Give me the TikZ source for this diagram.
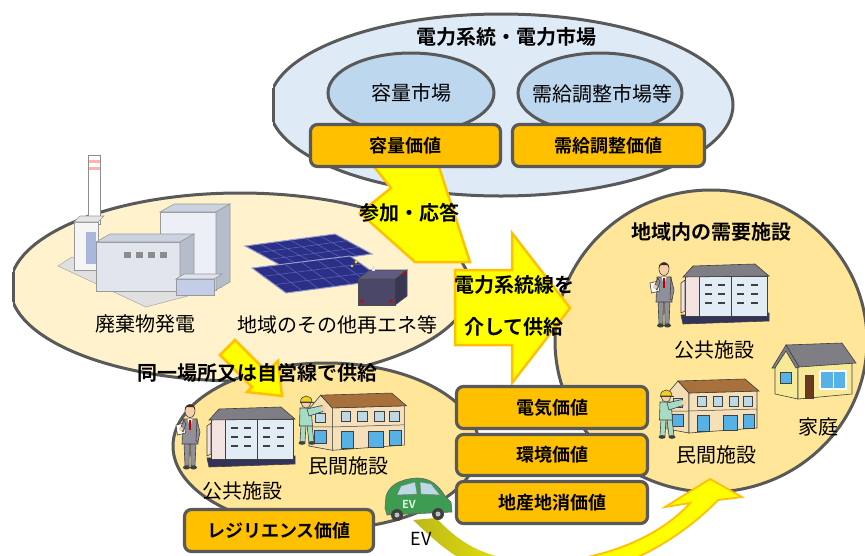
\documentclass[tikz,border=0pt]{standalone}
\usepackage{fontspec}
\setmainfont{Noto Sans CJK JP}[BoldFont={Noto Sans CJK JP Bold}]
\usetikzlibrary{calc}

\definecolor{edgegray}{HTML}{595959}
\definecolor{gridfill}{HTML}{DEEBF7}
\definecolor{marketfill}{HTML}{BDD7EE}
\definecolor{localfill}{HTML}{FFF2CC}
\definecolor{sitefill}{HTML}{FFE699}
\definecolor{valuefill}{HTML}{FFC000}
\definecolor{flowfill}{HTML}{FFFF00}
\definecolor{flowolive}{HTML}{BDB81A}
\definecolor{linedark}{HTML}{404040}
\definecolor{skin}{HTML}{F6CFA8}
\definecolor{hair}{HTML}{3A2A22}
\definecolor{suit}{HTML}{8F909A}
\definecolor{workwear}{HTML}{A6DCC6}
\definecolor{helmet}{HTML}{F4CF1E}
\definecolor{roofgray}{HTML}{7E7E84}
\definecolor{wallblue}{HTML}{E2ECF5}
\definecolor{wallpink}{HTML}{F2E2E0}
\definecolor{basenavy}{HTML}{33335A}
\definecolor{roofbrown}{HTML}{A8703A}
\definecolor{wallbeige}{HTML}{F4DDB2}
\definecolor{glassblue}{HTML}{56B2E6}
\definecolor{wallyellow}{HTML}{F7EA96}
\definecolor{doorbrown}{HTML}{6A3A1E}
\definecolor{carbody}{HTML}{3E9B52}
\definecolor{carglass}{HTML}{BCD9E6}
\definecolor{panelblue}{HTML}{2C2F86}
\definecolor{panelgrid}{HTML}{5560B8}
\definecolor{panelrim}{HTML}{9AA0CC}
\definecolor{plantlight}{HTML}{E0E5EE}
\definecolor{planttop}{HTML}{CBD2E0}
\definecolor{plantside}{HTML}{B5BCCA}
\definecolor{plantblue}{HTML}{A9B7DD}
\definecolor{batfront}{HTML}{4A4768}
\definecolor{battop}{HTML}{5F5B82}
\definecolor{batside}{HTML}{393654}

\tikzset{
  ring/.style={draw=edgegray, line width=3pt},
  valuebox/.style={draw=edgegray, line width=3.2pt, fill=valuefill, rounded corners=7pt,
    inner sep=0pt, font=\bfseries\fontsize{18}{22}\selectfont},
  flowarrow/.style={fill=flowfill, draw=valuefill, line width=2.5pt, line join=miter},
  plain/.style={inner sep=0pt, font=\fontsize{20}{24}\selectfont},
  heading/.style={inner sep=0pt, font=\bfseries\fontsize{20}{24}\selectfont},
  thinline/.style={draw=linedark, line width=0.6pt},
  % man in a suit holding papers
  suitman/.pic={
    \path[thinline, fill=suit] (8,40) -- (13.5,40) -- (13,64) -- (9,64) -- cycle;
    \path[thinline, fill=suit] (14.5,40) -- (20,40) -- (19,64) -- (15,64) -- cycle;
    \fill[linedark] (10.5,65.5) ellipse [x radius=3.5, y radius=2];
    \fill[linedark] (17.5,65.5) ellipse [x radius=3.5, y radius=2];
    \path[thinline, fill=suit] (7,17) -- (21,17) -- (22,42) -- (6,42) -- cycle;
    \fill[white] (11.5,17) -- (16.5,17) -- (14,25) -- cycle;
    \draw[red!75!black, line width=1.2pt] (14,18) -- (14,28);
    \path[thinline, fill=suit] (21,18) -- (24,30) -- (22,40) -- (20,39) -- cycle;
    \path[thinline, fill=white] (0,23) -- (8,21) -- (9.5,31) -- (1.5,33) -- cycle;
    \path[thinline, fill=suit] (8,18) -- (4,27) -- (7,30) -- (10,22) -- cycle;
    \fill[skin] (5,27) circle [radius=2];
    \path[thinline, fill=skin] (14,9) ellipse [x radius=5, y radius=6.5];
    \fill[hair] (8.8,8) .. controls (8.5,0.5) and (19.5,0.5) .. (19.2,8) -- (17.5,5) -- (10.5,5) -- cycle;
  },
  % worker in a helmet pushing forward
  worker/.pic={
    \path[thinline, fill=workwear] (6,32) -- (11,32) -- (10,49) -- (5,49) -- cycle;
    \path[thinline, fill=workwear] (12,32) -- (17,32) -- (19,49) -- (14,49) -- cycle;
    \fill[linedark] (7,50) ellipse [x radius=3.5, y radius=1.8];
    \fill[linedark] (17,50) ellipse [x radius=3.5, y radius=1.8];
    \path[thinline, fill=workwear] (5,15) -- (16,15) -- (17.5,33) -- (4.5,33) -- cycle;
    \path[thinline, fill=workwear] (12,16) -- (27,12.5) -- (28,18.5) -- (14,23) -- cycle;
    \fill[skin] (28.5,15.5) circle [radius=2.5];
    \path[thinline, fill=skin] (11,10.5) circle [radius=4.5];
    \path[thinline, fill=helmet] (5.5,9) .. controls (5.5,1) and (17,1) .. (17,9) -- cycle;
    \draw[linedark, line width=0.8pt] (4.5,9) -- (18.5,9);
  },
  % public building
  pubbldg/.pic={
    \path[thinline, fill=basenavy] (0,52) -- (88,50) -- (88,58) -- (2,61) -- cycle;
    \path[thinline, fill=wallblue] (4,13) rectangle (86,53);
    \path[thinline, fill=wallpink] (4,13) rectangle (18,53);
    \draw[linedark, line width=0.5pt] (50,13) -- (50,53);
    \foreach \yy in {22,31,40} {
      \foreach \xx in {24,37,56,70} {
        \draw[linedark, line width=1.1pt] (\xx,\yy) -- (\xx+7,\yy);
      }
    }
    \path[thinline, fill=roofgray] (2,14) -- (12,3) -- (74,1) -- (88,13) -- cycle;
    \path[thinline, fill=wallpink] (0,20) -- (4,17) -- (4,48) -- (0,50) -- cycle;
  },
  % private building
  privbldg/.pic={
    \path[thinline, fill=wallbeige] (0,16) -- (11,3) -- (22,15) -- (22,55) -- (0,51) -- cycle;
    \path[thinline, fill=wallbeige!90!white] (22,15) -- (90,13) -- (90,50) -- (22,55) -- cycle;
    \path[thinline, fill=roofbrown] (11,3) -- (78,1) -- (92,13) -- (22,15) -- cycle;
    \draw[linedark, line width=0.5pt] (0,33) -- (22,33) -- (90,31);
    \foreach \xx in {30,46,62,76} {
      \path[thinline, fill=carglass] (\xx,18) rectangle (\xx+9,28);
    }
    \path[thinline, fill=glassblue] (30,37) rectangle (42,53);
    \path[thinline, fill=glassblue] (56,37) rectangle (70,52);
    \path[thinline, fill=glassblue] (76,36) rectangle (87,50);
    \path[thinline, fill=carglass] (6,20) rectangle (15,29);
    \path[thinline, fill=glassblue] (5,36) rectangle (16,48);
  },
  % detached house
  homebldg/.pic={
    \path[thinline, fill=wallyellow] (3,24) -- (14,7) -- (26,24) -- (26,57) -- (3,52) -- cycle;
    \path[thinline, fill=wallyellow] (26,24) -- (80,21) -- (80,52) -- (26,57) -- cycle;
    \path[thinline, fill=roofgray] (14,3) -- (70,1) -- (84,21) -- (27,25) -- cycle;
    \path[thinline, fill=roofgray] (0,26) -- (14,3) -- (27,25) -- (24,26) -- (14,9) -- (3,26) -- cycle;
    \path[thinline, fill=doorbrown] (33,33) rectangle (41,56);
    \path[draw=white, line width=1.2pt, fill=glassblue] (48,29) rectangle (74,47);
    \draw[white, line width=1pt] (61,29) -- (61,47);
    \path[thinline, fill=glassblue] (8,30) rectangle (19,41);
  },
  % small electric car
  evcar/.pic={
    \path[draw=black!60, line width=0.6pt, fill=carbody] (2,32) -- (3,20)
      .. controls (6,10) and (16,3) .. (34,2) .. controls (48,2) and (56,10) .. (62,20)
      -- (68,26) -- (69,36) -- (4,39) -- cycle;
    \path[fill=carglass, draw=black!50, line width=0.4pt] (14,19) -- (18,10) -- (32,6) -- (34,18) -- cycle;
    \path[fill=carglass, draw=black!50, line width=0.4pt] (37,6) -- (48,8) -- (57,19) -- (38,18) -- cycle;
    \node[font=\bfseries\fontsize{11}{12}\selectfont, text=green!12!white, inner sep=0pt] (mark) at (26,28) {EV};
    \fill[black!75] (14,39) circle [radius=6];
    \fill[gray!50] (14,39) circle [radius=2.5];
    \fill[black!75] (55,38) circle [radius=6];
    \fill[gray!50] (55,38) circle [radius=2.5];
  },
}

\begin{document}
\begin{tikzpicture}[x=1pt, y=-1pt]
\useasboundingbox (0,0) rectangle (865,555);
\clip (0,0) rectangle (865,555);
\fill[white] (0,0) rectangle (865,555);

% ---- power grid / power market ----
\begin{scope}
  \clip (273,0) rectangle (865,250);
  \path[ring, fill=gridfill] (501,105) ellipse [x radius=232, y radius=91];
\end{scope}
\draw[ring] (273,88) -- (273,122);
\path[ring, fill=marketfill] (411,93) ellipse [x radius=83, y radius=40];
\path[ring, fill=marketfill] (600,93) ellipse [x radius=82, y radius=40];

% ---- local generation ----
\begin{scope}
  \clip (13,150) rectangle (600,450);
  \path[ring, fill=localfill] (240,287) ellipse [x radius=230, y radius=94];
\end{scope}
\draw[ring] (13,272) -- (13,302);

% ---- on-site supply ----
\path[ring, fill=sitefill] (326,446) ellipse [x radius=153, y radius=83];

% ---- demand facilities in the region ----
\path[ring, fill=sitefill] (711,341) ellipse [x radius=156, y radius=151];

% ---- EV flow towards the demand side ----
\shade[left color=flowolive, right color=flowfill, middle color=flowfill]
  (413,520) .. controls (440,545) and (470,578) .. (540,580)
  .. controls (600,582) and (672,548) .. (718,500)
  -- (742,497) -- (710,479) -- (665,507) -- (690,503)
  .. controls (660,537) and (600,562) .. (540,562)
  .. controls (480,560) and (458,540) .. (436,518) -- cycle;
\begin{scope}
  \clip (560,440) rectangle (800,600);
  \draw[draw=valuefill, line width=1.8pt, line join=miter]
    (413,520) .. controls (440,545) and (470,578) .. (540,580)
    .. controls (600,582) and (672,548) .. (718,500)
    -- (742,497) -- (710,479) -- (665,507) -- (690,503)
    .. controls (660,537) and (600,562) .. (540,562)
    .. controls (480,560) and (458,540) .. (436,518) -- cycle;
\end{scope}

% ---- participation / response arrow ----
\path[flowarrow] (372,164) -- (438,164) -- (470,262) -- (415,262) -- (360,213) -- (391,188) -- cycle;

% ---- market value boxes ----
\node[valuebox, minimum width=190pt, minimum height=42pt] (capval) at (405.5,145.5) {容量価値};
\node[valuebox, minimum width=192pt, minimum height=42pt] (balval) at (608.5,145.5) {需給調整価値};

% ---- supply arrows ----
\path[flowarrow] (455,270) -- (512,270) -- (512,233) -- (570,308) -- (512,383) -- (512,345) -- (455,345) -- cycle;
\path[flowarrow] (235,340) -- (267,372) -- (278,361) -- (282,396) -- (247,392) -- (252,387) -- (220,355) -- cycle;

% ---- waste-to-energy plant ----
\path[fill=black!12, draw=black!35, line width=0.5pt] (58,266) -- (72,257) -- (222,287) -- (146,307) -- cycle;
\path[fill=white, draw=black!45, line width=0.8pt] (88,155) rectangle (100,224);
\fill[red!30] (88.5,160) rectangle (99.5,163);
\fill[red!30] (88.5,167) rectangle (99.5,170);
\path[fill=black!4, draw=black!40, line width=0.6pt] (74,222) rectangle (98,270);
\path[fill=black!10, draw=black!40, line width=0.6pt] (74,222) -- (80,216) -- (104,216) -- (98,222) -- cycle;
\fill[plantblue] (86,232) rectangle (96,264);
\path[fill=plantlight!60!white, draw=black!40, line width=0.6pt] (160,212) rectangle (216,290);
\path[fill=planttop, draw=black!40, line width=0.6pt] (160,212) -- (174,204) -- (230,204) -- (216,212) -- cycle;
\path[fill=plantside, draw=black!40, line width=0.6pt] (216,212) -- (230,204) -- (230,282) -- (216,290) -- cycle;
\path[fill=plantlight, draw=black!40, line width=0.6pt] (96,242) rectangle (180,291);
\path[fill=planttop, draw=black!40, line width=0.6pt] (96,242) -- (110,234) -- (194,234) -- (180,242) -- cycle;
\path[fill=plantside, draw=black!40, line width=0.6pt] (180,242) -- (194,234) -- (194,283) -- (180,291) -- cycle;
\foreach \xx in {124,136,148,160} {
  \fill[black!45] (\xx,252) rectangle (\xx+7,258);
}
\path[fill=plantblue!70!white, draw=black!40, line width=0.6pt] (176,279) rectangle (214,295);
\path[fill=plantblue!40!white, draw=black!40, line width=0.6pt] (176,279) -- (184,274) -- (222,274) -- (214,279) -- cycle;

% ---- solar panels ----
\path[fill=panelblue, draw=panelrim, line width=1pt] (245,246) -- (335,234) -- (372,254) -- (282,266) -- cycle;
\foreach \t in {0.1667,0.3333,0.5,0.6667,0.8333} {
  \draw[panelgrid, line width=0.6pt] ($(245,246)!\t!(335,234)$) -- ($(282,266)!\t!(372,254)$);
}
\foreach \t in {0.3333,0.6667} {
  \draw[panelgrid, line width=0.6pt] ($(245,246)!\t!(282,266)$) -- ($(335,234)!\t!(372,254)$);
}
\path[fill=panelblue, draw=panelrim, line width=1pt] (252,268) -- (350,256) -- (384,280) -- (286,293) -- cycle;
\foreach \t in {0.1667,0.3333,0.5,0.6667,0.8333} {
  \draw[panelgrid, line width=0.6pt] ($(252,268)!\t!(350,256)$) -- ($(286,293)!\t!(384,280)$);
}
\foreach \t in {0.3333,0.6667} {
  \draw[panelgrid, line width=0.6pt] ($(252,268)!\t!(286,293)$) -- ($(350,256)!\t!(384,280)$);
}

% ---- storage battery ----
\path[fill=battop, draw=black!70, line width=0.6pt] (358,279) -- (370,270) -- (407,270) -- (395,279) -- cycle;
\path[fill=batfront, draw=black!70, line width=0.6pt] (358,279) rectangle (395,305);
\path[fill=batside, draw=black!70, line width=0.6pt] (395,279) -- (407,270) -- (407,296) -- (395,305) -- cycle;
\fill[white!80!gray] (372,266) rectangle (375,271);
\fill[red!85!black] (362,301) circle [radius=1.8];
\fill[red!85!black] (391,301) circle [radius=1.8];
\fill[red!85!black] (404,273) circle [radius=1.6];
\fill[yellow!80!orange] (356,262) circle [radius=1.6];
\fill[yellow!80!orange] (352,266) circle [radius=1.3];

% ---- facilities on site ----
\pic at (207,406) {pubbldg};
\pic at (176,402) {suitman};
\pic[scale=1.06] at (309,392) {privbldg};
\pic at (295,393) {worker};

% ---- facilities in the region ----
\pic at (681,263) {pubbldg};
\pic at (650,260) {suitman};
\pic at (667,378) {privbldg};
\pic at (655,387) {worker};
\pic at (772,342) {homebldg};

% ---- lower value boxes ----
\node[valuebox, minimum width=191pt, minimum height=42pt] (elecval) at (552,407.5) {電気価値};
\node[valuebox, minimum width=191pt, minimum height=41pt] (envval) at (552,455) {環境価値};
\node[valuebox, minimum width=191pt, minimum height=42pt] (localval) at (552,502.5) {地産地消価値};
\node[valuebox, minimum width=189pt, minimum height=42pt] (resval) at (279,530.5) {レジリエンス価値};

% ---- electric vehicle ----
\pic (ev) at (383,476) {evcar};
\node[plain, font=\fontsize{18}{20}\selectfont] (evlabel) at (421,539) {EV};

% ---- labels ----
\node[heading] (gridtitle) at (506,37) {電力系統・電力市場};
\node[plain] (capmkt) at (411,93) {容量市場};
\node[plain] (balmkt) at (602,94) {需給調整市場等};
\node[heading] (bid) at (409,213) {参加・応答};
\node[plain] (wastelbl) at (145,324) {廃棄物発電};
\node[plain] (renewlbl) at (337,325) {地域のその他再エネ等};
\node[heading] (gridline1) at (514,285) {電力系統線を};
\node[heading] (gridline2) at (514,327) {介して供給};
\node[heading] (demandtitle) at (711,232) {地域内の需要施設};
\node[plain] (pubtwolbl) at (714,350) {公共施設};
\node[plain] (homelbl) at (818,427) {家庭};
\node[plain] (privtwolbl) at (716,455) {民間施設};
\node[heading] (onsite) at (257,373) {同一場所又は自営線で供給};
\node[plain] (pubonelbl) at (242,491) {公共施設};
\node[plain] (privonelbl) at (348,466) {民間施設};
\end{tikzpicture}
\end{document}
